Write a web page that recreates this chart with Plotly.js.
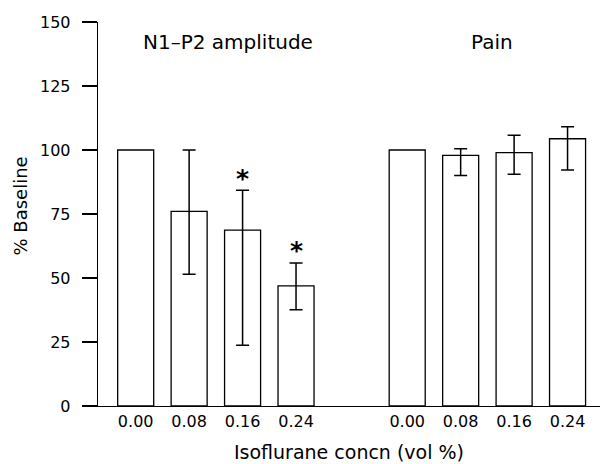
<!DOCTYPE html>
<html>
<head>
<meta charset="utf-8">
<script src="https://cdn.plot.ly/plotly-3.0.1.min.js"></script>
<style>html,body{margin:0;padding:0;background:#fff;}#chart{width:602px;height:464px;}</style>
</head>
<body>
<div id="chart"></div>
<script>
// ---- data ----
const concLabels = ['0.00', '0.08', '0.16', '0.24'];
const groupNames = ['N1\u2013P2 amplitude', 'Pain'];
const n1p2Mean = [100, 76, 68.7, 46.9];
const n1p2ErrPlus = [null, 24, 15.6, 9];
const n1p2ErrMinus = [null, 24.5, 45, 9.3];
const n1p2Sig = [false, false, true, true];
const painMean = [100, 97.9, 99, 104.4];
const painErrPlus = [null, 2.6, 6.8, 4.7];
const painErrMinus = [null, 7.9, 8.5, 12.2];
const painSig = [false, false, false, false];
const yTicks = [0, 25, 50, 75, 100, 125, 150];

// ---- layout helpers ----
const groupStep = 5.08;
const FONT = 'DejaVu Sans, Arial, sans-serif';
const posOf = (g) => concLabels.map((_, i) => g * groupStep + i);
const x1 = posOf(0), x2 = posOf(1);

function barTrace(x, y) {
  return {
    type: 'bar', x: x, y: y, width: 0.674,
    marker: {color: '#ffffff', line: {color: '#000000', width: 1.3}},
    showlegend: false, hoverinfo: 'skip'
  };
}
function errTrace(x, y, ep, em) {
  const idx = ep.map((v, i) => i).filter(i => ep[i] !== null);
  return {
    type: 'scatter', mode: 'markers', x: idx.map(i => x[i]), y: idx.map(i => y[i]),
    marker: {size: 1, color: 'rgba(0,0,0,0)'},
    error_y: {type: 'data', symmetric: false, array: idx.map(i => ep[i]), arrayminus: idx.map(i => em[i]),
              color: '#000000', thickness: 1.5, width: 6.5},
    showlegend: false, hoverinfo: 'skip'
  };
}

const traces = [barTrace(x1, n1p2Mean), barTrace(x2, painMean),
                errTrace(x1, n1p2Mean, n1p2ErrPlus, n1p2ErrMinus),
                errTrace(x2, painMean, painErrPlus, painErrMinus)];

const annotations = [];
[[x1, n1p2Mean, n1p2ErrPlus, n1p2Sig], [x2, painMean, painErrPlus, painSig]].forEach(([xs, m, ep, sig]) => {
  sig.forEach((s, i) => {
    if (s) annotations.push({x: xs[i], y: m[i] + (ep[i] || 0), xref: 'x', yref: 'y', text: '<b>*</b>',
      showarrow: false, yanchor: 'middle', yshift: 12, font: {family: FONT, size: 25, color: '#000'}});
  });
});
annotations.push({x: 0.259, y: 142.2, xref: 'paper', yref: 'y', text: groupNames[0], showarrow: false,
  xanchor: 'center', yanchor: 'middle', font: {family: FONT, size: 20, color: '#000'}});
annotations.push({x: 0.784, y: 142.2, xref: 'paper', yref: 'y', text: groupNames[1], showarrow: false,
  xanchor: 'center', yanchor: 'middle', font: {family: FONT, size: 20, color: '#000'}});
annotations.push({x: -0.155, y: 0.52, xref: 'paper', yref: 'paper', text: '% Baseline', textangle: -90,
  showarrow: false, xanchor: 'center', yanchor: 'middle', font: {family: FONT, size: 18, color: '#000'}});

const layout = {
  width: 602, height: 464,
  margin: {l: 98, r: 2, t: 22, b: 58, pad: 0},
  paper_bgcolor: '#ffffff', plot_bgcolor: '#ffffff',
  font: {family: FONT, color: '#000'},
  bargap: 0,
  xaxis: {
    range: [-0.705, 8.687], showline: true, linecolor: '#000', linewidth: 1.3,
    ticks: '', tickvals: x1.concat(x2), ticktext: concLabels.concat(concLabels),
    tickfont: {family: FONT, size: 16, color: '#000'},
    showgrid: false, zeroline: false,
    title: {text: 'Isoflurane concn (vol %)', font: {family: FONT, size: 19, color: '#000'}, standoff: 16}
  },
  yaxis: {
    range: [0, 150], showline: true, linecolor: '#000', linewidth: 1.3,
    ticks: 'outside', ticklen: 15, tickwidth: 1.3, tickcolor: '#000',
    tickvals: yTicks, ticklabelstandoff: 8,
    tickfont: {family: FONT, size: 16, color: '#000'},
    showgrid: false, zeroline: false
  },
  annotations: annotations
};

Plotly.newPlot('chart', traces, layout, {staticPlot: true, displayModeBar: false});
</script>
</body>
</html>
